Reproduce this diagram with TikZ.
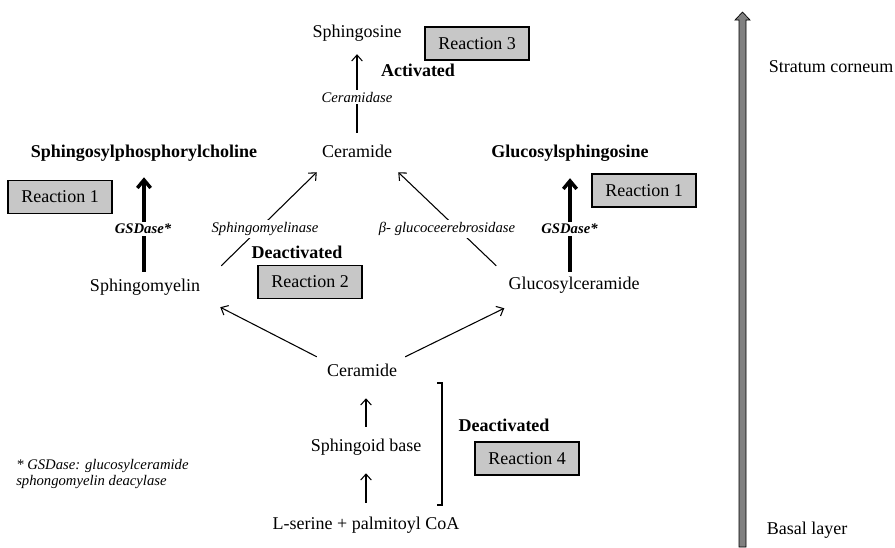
\documentclass[tikz,border=0pt]{standalone}
\usepackage{fontspec}
\setmainfont{Liberation Serif}
\usetikzlibrary{arrows.meta}

\begin{document}
\begin{tikzpicture}[x=0.75pt,y=-0.75pt,
  txt/.style={font=\fontsize{13.5}{16}\selectfont, inner sep=0pt, text height=10pt, text depth=3pt},
  bld/.style={txt, font=\fontsize{13.5}{16}\selectfont\bfseries},
  enz/.style={font=\fontsize{11}{13}\selectfont\itshape, fill=white, inner sep=1.5pt},
  gsd/.style={enz, font=\fontsize{11}{13}\selectfont\bfseries\itshape},
  rbox/.style={draw, fill=black!22, line width=0.8pt, minimum width=78pt, minimum height=24.75pt,
    inner sep=0pt, font=\fontsize{13.5}{16}\selectfont},
  arr/.style={-{Straight Barb[length=4.5pt,width=8pt]}, line width=0.8pt},
  thk/.style={-{Straight Barb[length=6pt,width=10pt]}, line width=2.6pt}]

\useasboundingbox (0,0) rectangle (895,547);

% top: ceramide -> sphingosine
\node[txt] (sgs) at (357,33) {Sphingosine};
\node[rbox] (r3) at (477,43.5) {Reaction 3};
\node[bld] (act) at (418,72) {Activated};
\node[txt] (cer) at (357,153) {Ceramide};

\draw[arr, shorten <=8.5pt, shorten >=9.2pt] (cer.north) -- (sgs.south);
\node[enz] (cdase) at (357,97) {Ceramidase};

% left branch
\node[bld] (spc) at (144,153) {Sphingosylphosphorylcholine};
\node[rbox] (r1l) at (60,197) {Reaction 1};
\node[txt] (sm) at (145,287) {Sphingomyelin};
\node[bld] (deact2) at (297,254) {Deactivated};
\node[rbox] (r2) at (310,282) {Reaction 2};

\draw[thk, shorten <=4.7pt, shorten >=11.5pt] (sm.north -| spc.south) -- (spc.south);
\node[gsd] (gsdl) at (143,229) {GSDase*};

\draw[arr] ([shift={(21,-12.3)}]sm.north east) -- ([shift={(-5,10.3)}]cer.south west);
\node[enz] (smase) at (265,229) {Sphingomyelinase};

% right branch
\node[bld] (gsg) at (570,153) {Glucosylsphingosine};
\node[rbox] (r1r) at (644,190.5) {Reaction 1};
\node[txt] (gc) at (574,285) {Glucosylceramide};

\draw[thk, shorten <=3.2pt, shorten >=12.2pt] (gc.north -| gsg.south) -- (gsg.south);
\node[gsd] (gsdr) at (569.5,229) {GSDase*};

\draw[arr] ([shift={(-12,-10.3)}]gc.north west) -- ([shift={(6,10.3)}]cer.south east);
\node[enz] (gcase) at (447,229) {β- glucoceerebrosidase};

% de novo synthesis
\node[txt] (cerb) at (362,372) {Ceramide};
\node[txt] (sb) at (366,447) {Sphingoid base};
\node[txt] (ser) at (366,525) {L-serine + palmitoyl CoA};
\node[bld] (deact4) at (504,427) {Deactivated};
\node[rbox] (r4) at (527,458.5) {Reaction 4};

\draw[arr] ([shift={(-10,-6.3)}]cerb.north west) -- ([shift={(20,11.3)}]sm.south east);
\draw[arr] ([shift={(8,-6.3)}]cerb.north east) -- ([shift={(-4,14.3)}]gc.south west);
\draw[arr, shorten <=8.5pt, shorten >=13pt] (sb.north) -- (sb.north |- cerb.south);
\draw[arr, shorten <=10pt, shorten >=13pt] (ser.north) -- (ser.north |- sb.south);

\draw[line width=0.8pt] (437,383) -- (442,383) -- (442,505) -- (437,505);

% skin layers
\draw[fill=black!50, line width=0.5pt] (739,547) -- (739,20) -- (735,20) -- (742.5,12)
  -- (750,20) -- (746,20) -- (746,547) -- cycle;
\node[txt] (sc) at (831,68) {Stratum corneum};
\node[txt] (bl) at (807,530) {Basal layer};

% footnote
\node[font=\fontsize{11}{12}\selectfont\itshape, anchor=north west, align=left, inner sep=0pt]
  (note) at (16,459) {* GSDase: glucosylceramide\\sphongomyelin deacylase};

\end{tikzpicture}
\end{document}
